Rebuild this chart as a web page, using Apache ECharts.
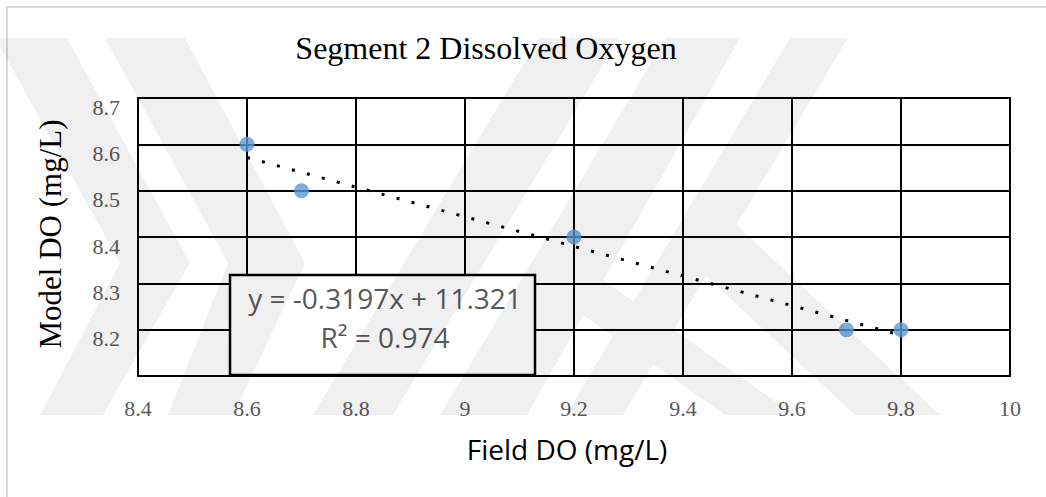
<!DOCTYPE html>
<html>
<head>
<meta charset="utf-8">
<script src="https://cdn.jsdelivr.net/npm/echarts@6.0.0/dist/echarts.min.js"></script>
<style>
  html, body { margin: 0; padding: 0; background: #ffffff; }
  #chart { width: 1046px; height: 497px; }
</style>
</head>
<body>
<div id="chart"></div>
<script>
// Measured dissolved oxygen (field) against modelled values, segment 2
const fieldDO = [8.6, 8.7, 9.2, 9.7, 9.8];
const modelDO = [8.6, 8.5, 8.4, 8.2, 8.2];

// Axis ranges and tick steps
const xAxisMin = 8.4, xAxisMax = 10, xAxisStep = 0.2;
const yAxisMin = 8.1, yAxisMax = 8.7, yAxisStep = 0.1;

// Linear trendline as reported by the fit
const trendSlope = -0.3197;
const trendIntercept = 11.321;
const trendR2 = 0.974;

const points = fieldDO.map((x, i) => [x, modelDO[i]]);
const xFirst = Math.min(...fieldDO);
const xLast = Math.max(...fieldDO);
const trendPoints = [xFirst, xLast].map(x => [x, trendSlope * x + trendIntercept]);

const eqLine1 = 'y = ' + trendSlope + 'x + ' + trendIntercept;
const eqLine2 = 'R\u00B2 = ' + trendR2;

// ---- Background logo: light grey bands laid over the chart ----
const T = 38, M = 263, B = 415;

// convex quads; overlaps are cut away so the translucent fill stays even
function quadBand(tl, tr, br, bl, yTop, yBot) {
  return [[tl, yTop], [tr, yTop], [br, yBot], [bl, yBot]];
}
function leg(eTop, eBot, yApex, xBotR, xBotL) {
  const m = (eBot - eTop) / (B - T);
  const edgeX = y => eTop + m * (y - T);
  const ax = edgeX(yApex);
  const k = (xBotR - ax) / (B - yApex);
  const yJoin = (xBotL - k * B - eTop + m * T) / (m - k);
  return [[ax, yApex], [xBotR, B], [xBotL, B], [edgeX(yJoin), yJoin]];
}
function clip(poly, f) {
  const out = [];
  for (let i = 0; i < poly.length; i++) {
    const p = poly[i], q = poly[(i + 1) % poly.length];
    const fp = f(p), fq = f(q);
    if (fp >= 0) out.push(p);
    if ((fp >= 0) !== (fq >= 0)) {
      const t = fp / (fp - fq);
      out.push([p[0] + t * (q[0] - p[0]), p[1] + t * (q[1] - p[1])]);
    }
  }
  return out;
}
function area(poly) {
  let s = 0;
  for (let i = 0; i < poly.length; i++) {
    const p = poly[i], q = poly[(i + 1) % poly.length];
    s += p[0] * q[1] - q[0] * p[1];
  }
  return Math.abs(s) / 2;
}
function subtract(a, b) {
  const cx = b.reduce((s, p) => s + p[0], 0) / b.length;
  const cy = b.reduce((s, p) => s + p[1], 0) / b.length;
  const pieces = [];
  let cur = a;
  for (let i = 0; i < b.length && cur.length > 2; i++) {
    const p = b[i], q = b[(i + 1) % b.length];
    const side = pt => (q[0] - p[0]) * (pt[1] - p[1]) - (q[1] - p[1]) * (pt[0] - p[0]);
    const sgn = side([cx, cy]) >= 0 ? 1 : -1;
    const outside = clip(cur, pt => -sgn * side(pt));
    if (outside.length > 2 && area(outside) > 0.5) pieces.push(outside);
    cur = clip(cur, pt => sgn * side(pt));
  }
  return pieces;
}

const logoQuads = [
  // left double chevron
  quadBand(-5, 67, 190, 120, T, M), quadBand(120, 190, 103, 40, M, B),
  quadBand(105, 185, 305, 228, T, M), quadBand(228, 305, 233, 168, M, B),
  // slanted bands on the right
  quadBand(539, 619, 393, 313, T, B),
  quadBand(666, 740, 527, 440, T, B),
  quadBand(790, 848, 623, 566, T, B),
  leg(740, 527, 280, 795, 725),
  leg(848, 623, 225, 940, 855)
];
const logoPieces = [];
logoQuads.forEach(q => {
  let parts = [q];
  logoPieces.forEach(prev => { parts = parts.flatMap(p => subtract(p, prev)); });
  parts.forEach(p => logoPieces.push(p));
});

const chart = echarts.init(document.getElementById('chart'), null, { renderer: 'svg' });

const serif = '"Liberation Serif", "Times New Roman", serif';
const sans = '"Open Sans", "Liberation Sans", sans-serif';

const logoGraphics = logoPieces.map(pts => ({
  type: 'polygon',
  silent: true,
  z: 100,
  shape: { points: pts },
  style: { fill: 'rgba(0,0,0,0.06)', stroke: 'none' }
}));

chart.setOption({
  animation: false,
  backgroundColor: '#ffffff',
  title: {
    text: 'Segment 2 Dissolved Oxygen',
    left: 481,
    top: 27,
    textAlign: 'center',
    textStyle: { fontFamily: serif, fontSize: 32, fontWeight: 'normal', color: '#000000' }
  },
  grid: {
    left: 138, top: 98, width: 872, height: 278,
    containLabel: false,
    show: true,
    borderColor: '#000000',
    borderWidth: 2,
    backgroundColor: 'transparent'
  },
  xAxis: {
    type: 'value',
    min: xAxisMin, max: xAxisMax, interval: xAxisStep,
    axisLine: { show: true, onZero: false, lineStyle: { color: '#000000', width: 2 } },
    axisTick: { show: false },
    splitLine: { show: true, lineStyle: { color: '#000000', width: 2 } },
    axisLabel: {
      margin: 21,
      fontFamily: serif, fontSize: 22, color: '#595959',
      showMinLabel: true, showMaxLabel: true
    }
  },
  yAxis: {
    type: 'value',
    min: yAxisMin, max: yAxisMax, interval: yAxisStep,
    axisLine: { show: true, onZero: false, lineStyle: { color: '#000000', width: 2 } },
    axisTick: { show: false },
    splitLine: { show: true, lineStyle: { color: '#000000', width: 2 } },
    axisLabel: {
      margin: 18,
      fontFamily: serif, fontSize: 22, color: '#595959',
      verticalAlign: 'top', lineHeight: 18,
      showMinLabel: false, showMaxLabel: true
    }
  },
  series: [
    {
      name: 'Model DO',
      type: 'scatter',
      data: points,
      symbol: 'circle',
      symbolSize: 15,
      itemStyle: { color: '#5B9BD5' },
      z: 3
    },
    {
      name: 'Linear trend',
      type: 'line',
      data: trendPoints,
      symbol: 'none',
      silent: true,
      lineStyle: { color: '#000000', width: 3, type: [3, 12.5], cap: 'butt' },
      z: 4
    }
  ],
  graphic: [
    // chart area frame
    {
      type: 'rect', silent: true, z: 0,
      shape: { x: 7, y: 7, width: 1100, height: 600 },
      style: { fill: 'none', stroke: '#d9d9d9', lineWidth: 2 }
    },
    // trendline equation box
    {
      type: 'rect', silent: true, z: 50,
      shape: { x: 230, y: 275, width: 305, height: 100 },
      style: { fill: '#ffffff', stroke: '#000000', lineWidth: 2.5 }
    },
    {
      type: 'text', silent: true, z: 51,
      x: 385, y: 298,
      style: { text: eqLine1, fontFamily: sans, fontSize: 28, fill: '#595959', textAlign: 'center', textVerticalAlign: 'middle' }
    },
    {
      type: 'text', silent: true, z: 51,
      x: 385, y: 337,
      style: { text: eqLine2, fontFamily: sans, fontSize: 28, fill: '#595959', textAlign: 'center', textVerticalAlign: 'middle' }
    },
    // axis titles
    {
      type: 'text', silent: true, z: 51,
      x: 567, y: 449,
      style: { text: 'Field DO (mg/L)', fontFamily: sans, fontSize: 28, fill: '#000000', textAlign: 'center', textVerticalAlign: 'middle' }
    },
    {
      type: 'text', silent: true, z: 51,
      x: 50, y: 234, rotation: Math.PI / 2,
      style: { text: 'Model DO (mg/L)', fontFamily: serif, fontSize: 31, fill: '#000000', textAlign: 'center', textVerticalAlign: 'middle' }
    }
  ].concat(logoGraphics)
});
</script>
</body>
</html>
